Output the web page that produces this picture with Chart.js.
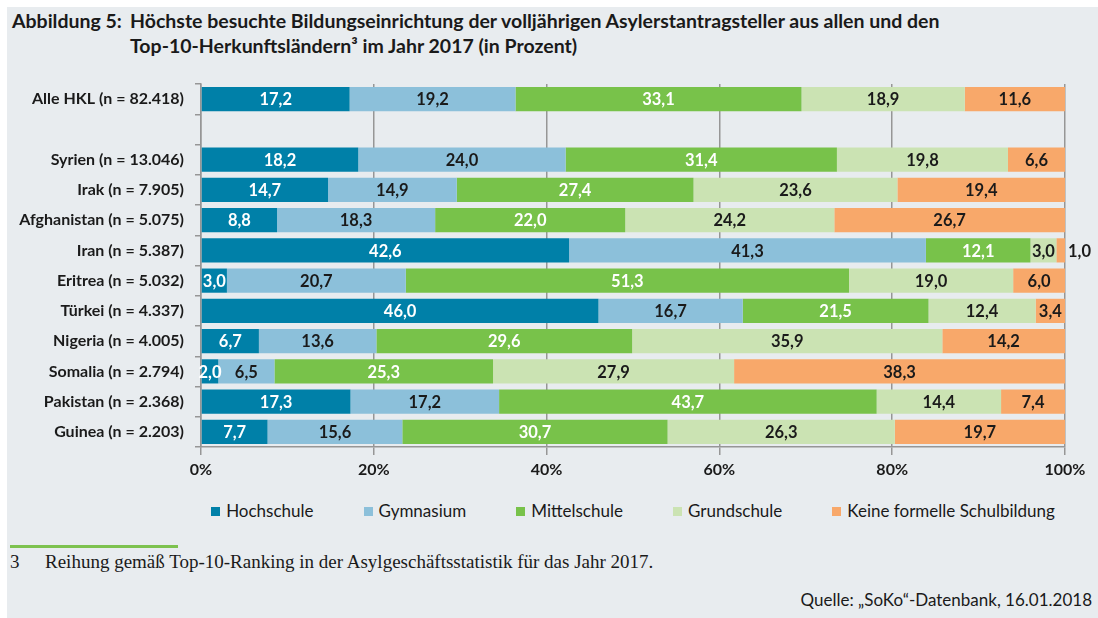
<!DOCTYPE html>
<html lang="de">
<head>
<meta charset="utf-8">
<script src="https://cdn.jsdelivr.net/npm/chart.js@4/dist/chart.umd.min.js"></script>
<style>
  html, body { margin: 0; padding: 0; background: #fff; }
  body { width: 1098px; height: 618px; position: relative; overflow: hidden; font-family: Lato, sans-serif; color: #1a1a1a; }
  #panel { position: absolute; left: 7px; top: 7px; right: 0; bottom: 0; background: #e8ecef; }
  .title { position: absolute; top: 8px; font-weight: bold; font-size: 19.5px; line-height: 25px; white-space: nowrap; }
  #chart { position: absolute; left: 0; top: 0; }
  #legend { position: absolute; top: 500px; left: 201px; width: 864px; display: flex; justify-content: center; gap: 50px; font-size: 17px; white-space: nowrap; }
  #legend span.box { display: inline-block; width: 9px; height: 9px; margin-right: 6px; vertical-align: 1px; }
  #rule { position: absolute; left: 10px; top: 545px; width: 168px; height: 2.5px; background: #7dc24f; }
  .note { position: absolute; top: 551px; font-family: "Liberation Serif", serif; font-size: 19px; white-space: nowrap; }
  #source { position: absolute; right: 6px; top: 589px; font-size: 17px; white-space: nowrap; }
</style>
</head>
<body>
<div id="panel"></div>
<div class="title" style="left:12px">Abbildung 5:</div>
<div class="title" style="left:130px">Höchste besuchte Bildungseinrichtung der volljährigen Asylerstantragsteller aus allen und den<br>Top-10-Herkunftsländern³ im Jahr 2017 (in Prozent)</div>
<canvas id="chart" width="1098" height="480"></canvas>
<div id="legend"></div>
<div id="rule"></div>
<div class="note" style="left:10px">3</div>
<div class="note" style="left:45px">Reihung gemäß Top-10-Ranking in der Asylgeschäftsstatistik für das Jahr 2017.</div>
<div id="source">Quelle: „SoKo“-Datenbank, 16.01.2018</div>

<script>
// Kategorien (leere Zeile trennt "Alle HKL" von den Ländern)
const categories = [
    'Alle HKL (n = 82.418)', '',
    'Syrien (n = 13.046)', 'Irak (n = 7.905)', 'Afghanistan (n = 5.075)',
    'Iran (n = 5.387)', 'Eritrea (n = 5.032)', 'Türkei (n = 4.337)',
    'Nigeria (n = 4.005)', 'Somalia (n = 2.794)', 'Pakistan (n = 2.368)',
    'Guinea (n = 2.203)'
];

const hochschule   = [17.2, null, 18.2, 14.7,  8.8, 42.6,  3.0, 46.0,  6.7,  2.0, 17.3,  7.7];
const gymnasium    = [19.2, null, 24.0, 14.9, 18.3, 41.3, 20.7, 16.7, 13.6,  6.5, 17.2, 15.6];
const mittelschule = [33.1, null, 31.4, 27.4, 22.0, 12.1, 51.3, 21.5, 29.6, 25.3, 43.7, 30.7];
const grundschule  = [18.9, null, 19.8, 23.6, 24.2,  3.0, 19.0, 12.4, 35.9, 27.9, 14.4, 26.3];
const keineBildung = [11.6, null,  6.6, 19.4, 26.7,  1.0,  6.0,  3.4, 14.2, 38.3,  7.4, 19.7];

const seriesNames = ['Hochschule', 'Gymnasium', 'Mittelschule', 'Grundschule', 'Keine formelle Schulbildung'];
const xTickValues = [0, 20, 40, 60, 80, 100];

const colors = ['#0080a8', '#8cc0da', '#78c24a', '#cbe3b3', '#f8a86a'];
const labelColors = ['#ffffff', '#1a1a1a', '#ffffff', '#1a1a1a', '#1a1a1a'];
const gridColor = '#969696';

Chart.defaults.font.family = 'Lato';
Chart.defaults.color = '#1a1a1a';

// Werte in die Balken schreiben (deutsches Komma)
const valueLabels = {
    id: 'valueLabels',
    afterDatasetsDraw(chart) {
        const ctx = chart.ctx;
        ctx.save();
        ctx.font = 'bold 16.5px Lato';
        ctx.textBaseline = 'middle';
        chart.data.datasets.forEach((ds, i) => {
            const meta = chart.getDatasetMeta(i);
            meta.data.forEach((bar, j) => {
                const v = ds.data[j];
                if (v == null) return;
                const txt = v.toFixed(1).replace('.', ',');
                if (v < 2) {
                    // zu schmal: Wert rechts neben den Balken
                    ctx.fillStyle = '#1a1a1a';
                    ctx.textAlign = 'left';
                    ctx.fillText(txt, bar.x + 3, bar.y + 1);
                } else {
                    ctx.fillStyle = labelColors[i];
                    ctx.textAlign = 'center';
                    ctx.fillText(txt, (bar.x + bar.base) / 2, bar.y + 1);
                }
            });
        });
        ctx.restore();
    }
};

const seriesData = [hochschule, gymnasium, mittelschule, grundschule, keineBildung];

new Chart(document.getElementById('chart'), {
    type: 'bar',
    data: {
        labels: categories,
        datasets: seriesData.map((d, i) => ({
            label: seriesNames[i],
            data: d,
            backgroundColor: colors[i],
            borderWidth: 0,
            barPercentage: 0.8,
            categoryPercentage: 1.0
        }))
    },
    options: {
        indexAxis: 'y',
        responsive: false,
        animation: false,
        layout: { padding: { top: 84, right: 33, left: 0, bottom: 0 } },
        plugins: {
            legend: { display: false },
            title: { display: false },
            tooltip: { enabled: false }
        },
        scales: {
            x: {
                stacked: true,
                min: 0,
                max: 100,
                afterBuildTicks: scale => { scale.ticks = xTickValues.map(v => ({ value: v })); },
                ticks: {
                    callback: v => v + '%',
                    font: { size: 16, weight: 'bold' },
                    padding: 5
                },
                grid: { color: gridColor, lineWidth: 1.5, tickLength: 8 },
                border: { color: gridColor, width: 1.5 },
                afterFit: scale => { scale.height = 33; }
            },
            y: {
                stacked: true,
                ticks: {
                    font: { size: 16, weight: 'bold' },
                    padding: 11
                },
                grid: { offset: true, drawOnChartArea: false, color: gridColor, lineWidth: 1.5, tickLength: 6 },
                border: { color: gridColor, width: 1.5 },
                afterFit: scale => { scale.width = 201; }
            }
        }
    },
    plugins: [valueLabels]
});

// Legende
const legend = document.getElementById('legend');
seriesNames.forEach((name, i) => {
    const item = document.createElement('div');
    item.innerHTML = '<span class="box" style="background:' + colors[i] + '"></span>' + name;
    legend.appendChild(item);
});
</script>
</body>
</html>
